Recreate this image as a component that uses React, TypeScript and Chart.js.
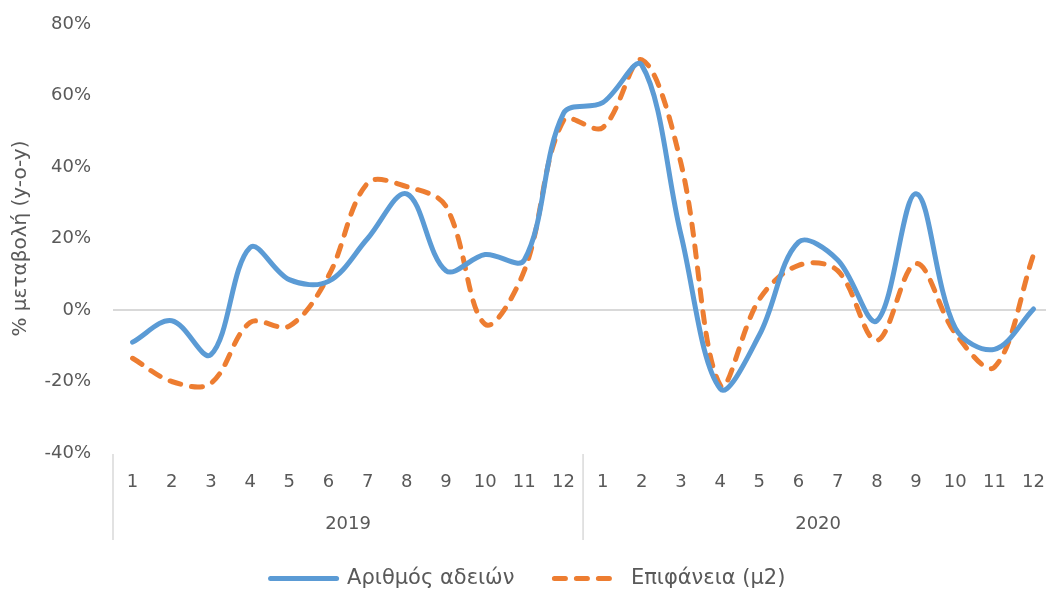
import { useEffect, useRef } from 'react';
import { Chart, registerables } from 'chart.js';

Chart.register(...registerables);

const YEARS = ['2019', '2020'];
const MONTHS = ['1', '2', '3', '4', '5', '6', '7', '8', '9', '10', '11', '12'];
const X_LABELS = YEARS.flatMap(() => MONTHS);

const SERIES_NAMES = ['Αριθμός αδειών', 'Επιφάνεια (μ2)'];
const PERMITS = [-9, -3, -12.5, 17.5, 8.5, 8, 20, 32.5, 11, 15.5, 14, 55, 58, 68.5, 21, -22, -7, 19, 14, -3, 32.5, -5, -11, 0.3];
const AREA = [-13.5, -20, -20.5, -3.5, -4.5, 9.5, 35.5, 34.5, 29, -4, 11, 53, 51, 70, 41, -21, 3, 12.5, 11, -8.5, 13, -6.5, -16, 15.5];

const Y_MIN = -40;
const Y_MAX = 80;
const Y_STEP = 20;
const Y_TITLE = '% μεταβολή (y-o-y)';

const FONT = "'DejaVu Sans', sans-serif";
const TEXT_COLOR = '#595959';
const LINE_GRAY = '#d9d9d9';

const yearAxisPlugin = {
  id: 'yearAxis',
  afterDraw(chart: any) {
    const xs = chart.scales.x;
    const ctx = chart.ctx;
    const top = chart.chartArea.bottom + 1;
    const bottom = 540;
    const half = (xs.getPixelForValue(1) - xs.getPixelForValue(0)) / 2;
    const n = MONTHS.length;
    ctx.save();
    ctx.strokeStyle = LINE_GRAY;
    ctx.lineWidth = 1.5;
    for (let g = 0; g <= YEARS.length; g++) {
      const idx = g * n;
      const px = idx < X_LABELS.length ? xs.getPixelForValue(idx) - half : xs.getPixelForValue(idx - 1) + half;
      ctx.beginPath();
      ctx.moveTo(px, top);
      ctx.lineTo(px, bottom);
      ctx.stroke();
    }
    ctx.fillStyle = TEXT_COLOR;
    ctx.font = `18px ${FONT}`;
    ctx.textAlign = 'center';
    ctx.textBaseline = 'middle';
    YEARS.forEach((y, g) => {
      const a = xs.getPixelForValue(g * n);
      const b = xs.getPixelForValue(g * n + n - 1);
      ctx.fillText(y, (a + b) / 2, 524);
    });
    ctx.restore();
  },
};

export default function App() {
  const ref = useRef<HTMLCanvasElement | null>(null);
  useEffect(() => {
    if (!ref.current) return;
    const chart = new Chart(ref.current, {
      type: 'line',
      data: {
        labels: X_LABELS,
        datasets: [
          {
            label: SERIES_NAMES[0],
            data: PERMITS,
            borderColor: '#5B9BD5',
            backgroundColor: '#5B9BD5',
            borderWidth: 5,
            pointRadius: 0,
            tension: 0.35,
            borderCapStyle: 'round',
            borderJoinStyle: 'round',
          },
          {
            label: SERIES_NAMES[1],
            data: AREA,
            borderColor: '#ED7D31',
            backgroundColor: '#ED7D31',
            borderWidth: 5,
            borderDash: [11, 11],
            pointRadius: 0,
            tension: 0.35,
            borderCapStyle: 'round',
            borderJoinStyle: 'round',
          },
        ],
      },
      options: {
        animation: false,
        responsive: false,
        layout: { padding: { top: 24, right: 0, bottom: -6, left: 0 } },
        plugins: {
          tooltip: { enabled: false },
          legend: {
            position: 'bottom',
            labels: {
              usePointStyle: true,
              pointStyleWidth: 66,
              pointStyle: 'line',
              padding: 40,
              color: TEXT_COLOR,
              font: { family: FONT, size: 21 },
              generateLabels: (c: any) => {
                const items = Chart.defaults.plugins.legend.labels.generateLabels(c);
                return items.map((it: any) => {
                  const ds: any = c.data.datasets[it.datasetIndex];
                  return {
                    ...it,
                    strokeStyle: ds.borderColor,
                    lineWidth: ds.borderWidth,
                    lineDash: ds.borderDash || [],
                    lineCap: 'round',
                  };
                });
              },
            },
          },
        },
        scales: {
          x: {
            type: 'category',
            offset: true,
            grid: { display: false },
            border: { display: false },
            ticks: {
              color: TEXT_COLOR,
              font: { family: FONT, size: 18 },
              padding: 11,
              maxRotation: 0,
              autoSkip: false,
            },
            afterFit: (s: any) => {
              s.height = 75;
            },
          },
          y: {
            min: Y_MIN,
            max: Y_MAX,
            border: { display: false },
            grid: {
              drawTicks: false,
              lineWidth: 2,
              color: (c: any) => (c.tick && c.tick.value === 0 ? LINE_GRAY : 'rgba(0,0,0,0)'),
            },
            ticks: {
              stepSize: Y_STEP,
              padding: 22,
              color: TEXT_COLOR,
              font: { family: FONT, size: 18 },
              callback: (v: any) => `${v}%`,
            },
            title: {
              display: true,
              text: Y_TITLE,
              color: TEXT_COLOR,
              font: { family: FONT, size: 20 },
              padding: { top: 9, bottom: 0 },
            },
            afterFit: (s: any) => {
              s.width = 113;
              s.paddingTop = 0;
              s.paddingBottom = 0;
            },
          },
        },
      },
      plugins: [yearAxisPlugin],
    });
    return () => chart.destroy();
  }, []);

  return (
    <div style={{ position: 'absolute', left: 0, top: 0, width: 1046, height: 593, overflow: 'hidden', background: '#fff' }}>
      <canvas ref={ref} width={1056} height={593} style={{ width: 1056, height: 593, display: 'block' }} />
    </div>
  );
}
